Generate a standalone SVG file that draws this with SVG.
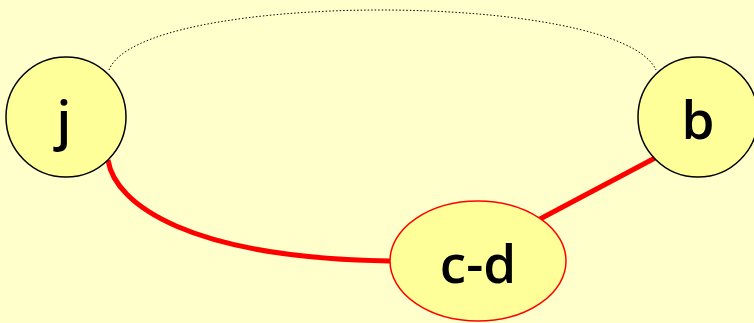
<svg xmlns="http://www.w3.org/2000/svg" width="754" height="323" viewBox="0 0 754 323">
<style>
.node{fill:#FFFF99;stroke:#000;stroke-width:1.5}
.lbl{font-family:"Open Sans",sans-serif;font-weight:600;font-size:53px;text-anchor:middle;fill:#000}
.red{fill:none;stroke:#FF0000;stroke-width:5}
</style>
<rect width="754" height="323" fill="#FFFFCC"/>
<g id="edges">
<path d="M109,70 C140,-10 620,-10 656,70" fill="none" stroke="#000" stroke-width="1" stroke-dasharray="1.5,2"/>
<path class="red" d="M108,160 C115,205 190,258 390,261"/>
<path class="red" d="M655,158 L540,219"/>
</g>
<g id="j"><circle class="node" cx="66" cy="117" r="60"/><text class="lbl" x="64" y="139">j</text></g>
<g id="b"><circle class="node" cx="698" cy="117" r="60"/><text class="lbl" x="698" y="139">b</text></g>
<g id="c-d"><ellipse class="node" cx="478" cy="261" rx="88" ry="60" style="stroke:#FF0000"/><text class="lbl" x="478" y="283">c-d</text></g>
</svg>
